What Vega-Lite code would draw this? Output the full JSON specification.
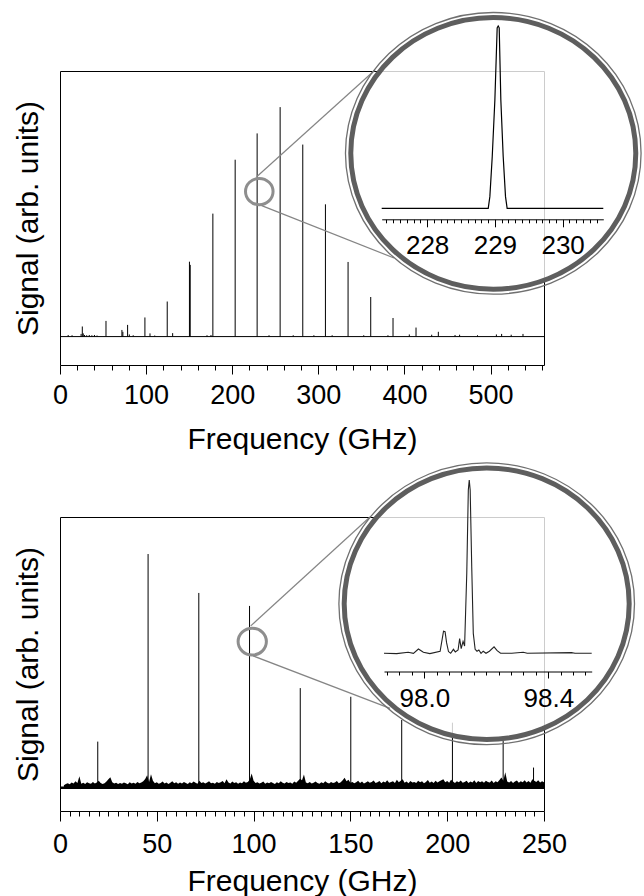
{
  "$schema": "https://vega.github.io/schema/vega-lite/v6.json",
  "padding": {"left": 12, "top": 7, "right": 0, "bottom": 0},
  "bounds": "flush",
  "spacing": 152,
  "config": {
    "font": "Liberation Sans",
    "view": {"stroke": "black", "strokeWidth": 1},
    "axis": {"labelFont": "Liberation Sans", "titleFont": "Liberation Sans", "labelColor": "black", "titleColor": "black", "tickColor": "black", "domainColor": "black", "titleFontWeight": "normal", "grid": false, "labelFlush": false, "labelOverlap": false, "tickWidth": 1}
  },
  "datasets": {
    "p1": [
      {"f":9.5,"v":0.006},{"f":14,"v":0.005},{"f":24.5,"v":0.01},{"f":25.9,"v":0.038},{"f":27,"v":0.012},{"f":28.5,"v":0.006},{"f":31,"v":0.005},{"f":34,"v":0.006},{"f":37,"v":0.005},{"f":40,"v":0.006},{"f":43,"v":0.004},
      {"f":53.4,"v":0.059},{"f":71.9,"v":0.025},{"f":73,"v":0.018},{"f":78.5,"v":0.044},{"f":80.5,"v":0.008},{"f":85,"v":0.005},{"f":98.6,"v":0.072},{"f":104.5,"v":0.012},{"f":110,"v":0.004},
      {"f":124.5,"v":0.132},{"f":130.8,"v":0.013},{"f":150.3,"v":0.282},{"f":151.2,"v":0.27},{"f":170.7,"v":0.005},{"f":175.3,"v":0.006},{"f":177.5,"v":0.463},{"f":203.4,"v":0.666},{"f":228.9,"v":0.765},
      {"f":242.7,"v":0.005},{"f":255.6,"v":0.864},{"f":270.8,"v":0.005},{"f":281.9,"v":0.723},{"f":294.8,"v":0.005},{"f":308.2,"v":0.498},{"f":316,"v":0.005},{"f":334.5,"v":0.281},{"f":352.7,"v":0.005},
      {"f":360.8,"v":0.149},{"f":380.8,"v":0.005},{"f":386.7,"v":0.07},{"f":405.6,"v":0.008},{"f":413.4,"v":0.034},{"f":431.6,"v":0.007},{"f":439.3,"v":0.018},{"f":458.7,"v":0.006},{"f":464,"v":0.007},
      {"f":484.8,"v":0.005},{"f":506.7,"v":0.008},{"f":512.8,"v":0.01},{"f":523.9,"v":0.007},{"f":537.6,"v":0.01}
    ],
    "base1": [{"f":0,"f2":562,"v":0}],
    "circ1": [{"f":231.4,"v":0.546}],
    "lens1": [{"f":503.1,"v":0.69}],
    "conn1": [{"f":228.4,"v":0.602,"f2":365.8,"v2":1.004},{"f":234.2,"v":0.493,"f2":387.8,"v2":0.296}],
    "ins1": [
      {"f":227.33,"v":0},{"f":228.902,"v":0},{"f":228.926,"v":0.064},{"f":228.961,"v":0.283},{"f":229.0,"v":0.594},{"f":229.034,"v":0.99},{"f":229.049,"v":1.0},{"f":229.064,"v":0.99},
      {"f":229.088,"v":0.594},{"f":229.123,"v":0.283},{"f":229.157,"v":0.064},{"f":229.181,"v":0},{"f":230.6,"v":0}
    ],
    "p2": [
      {"f":19.5,"v":0.169},{"f":45.5,"v":0.863},{"f":71.7,"v":0.719},{"f":97.9,"v":0.671},{"f":124.1,"v":0.367},{"f":150.2,"v":0.335},{"f":176.5,"v":0.249},{"f":202.7,"v":0.239},{"f":228.9,"v":0.172},{"f":244.6,"v":0.073}
    ],
    "base2": [{"f":0,"f2":250,"v":-0.002}],
    "noise2": [
      {"f":2,"v":0.008},{"f":3,"v":0.012},{"f":4,"v":0.015},{"f":5,"v":0.011},{"f":6,"v":0.018},{"f":7,"v":0.014},{"f":8,"v":0.022},{"f":9,"v":0.016},{"f":10,"v":0.041},{"f":11,"v":0.013},
      {"f":12,"v":0.017},{"f":13,"v":0.012},{"f":14,"v":0.019},{"f":15,"v":0.015},{"f":16,"v":0.013},{"f":17,"v":0.02},{"f":18,"v":0.014},{"f":19,"v":0.018},{"f":20,"v":0.024},{"f":21,"v":0.016},
      {"f":22,"v":0.012},{"f":23,"v":0.015},{"f":24,"v":0.021},{"f":25,"v":0.03},{"f":26,"v":0.037},{"f":27,"v":0.019},{"f":28,"v":0.014},{"f":29,"v":0.017},{"f":30,"v":0.012},{"f":31,"v":0.016},
      {"f":32,"v":0.013},{"f":33,"v":0.018},{"f":34,"v":0.015},{"f":35,"v":0.011},{"f":36,"v":0.019},{"f":37,"v":0.014},{"f":38,"v":0.017},{"f":39,"v":0.013},{"f":40,"v":0.02},{"f":41,"v":0.015},
      {"f":42,"v":0.018},{"f":43,"v":0.022},{"f":44,"v":0.031},{"f":45,"v":0.045},{"f":46,"v":0.02},{"f":47,"v":0.048},{"f":48,"v":0.024},{"f":49,"v":0.015},{"f":50,"v":0.019},{"f":51,"v":0.013},
      {"f":52,"v":0.016},{"f":53,"v":0.021},{"f":54,"v":0.014},{"f":55,"v":0.018},{"f":56,"v":0.012},{"f":57,"v":0.017},{"f":58,"v":0.022},{"f":59,"v":0.015},{"f":60,"v":0.019},{"f":61,"v":0.013},
      {"f":62,"v":0.018},{"f":63,"v":0.014},{"f":64,"v":0.02},{"f":65,"v":0.016},{"f":66,"v":0.012},{"f":67,"v":0.019},{"f":68,"v":0.015},{"f":69,"v":0.021},{"f":70,"v":0.017},{"f":71,"v":0.013},
      {"f":72,"v":0.024},{"f":73,"v":0.016},{"f":74,"v":0.019},{"f":75,"v":0.014},{"f":76,"v":0.018},{"f":77,"v":0.022},{"f":78,"v":0.015},{"f":79,"v":0.017},{"f":80,"v":0.013},{"f":81,"v":0.02},
      {"f":82,"v":0.016},{"f":83,"v":0.019},{"f":84,"v":0.023},{"f":85,"v":0.015},{"f":86,"v":0.03},{"f":87,"v":0.018},{"f":88,"v":0.014},{"f":89,"v":0.021},{"f":90,"v":0.016},{"f":91,"v":0.019},
      {"f":92,"v":0.013},{"f":93,"v":0.018},{"f":94,"v":0.015},{"f":95,"v":0.022},{"f":96,"v":0.017},{"f":97,"v":0.02},{"f":98,"v":0.028},{"f":99,"v":0.051},{"f":100,"v":0.024},{"f":101,"v":0.016},
      {"f":102,"v":0.019},{"f":103,"v":0.014},{"f":104,"v":0.017},{"f":105,"v":0.021},{"f":106,"v":0.013},{"f":107,"v":0.018},{"f":108,"v":0.015},{"f":109,"v":0.02},{"f":110,"v":0.016},{"f":111,"v":0.012},
      {"f":112,"v":0.019},{"f":113,"v":0.015},{"f":114,"v":0.022},{"f":115,"v":0.017},{"f":116,"v":0.014},{"f":117,"v":0.02},{"f":118,"v":0.016},{"f":119,"v":0.018},{"f":120,"v":0.013},{"f":121,"v":0.021},
      {"f":122,"v":0.017},{"f":123,"v":0.024},{"f":124,"v":0.032},{"f":125,"v":0.026},{"f":126,"v":0.047},{"f":127,"v":0.018},{"f":128,"v":0.015},{"f":129,"v":0.02},{"f":130,"v":0.014},{"f":131,"v":0.017},
      {"f":132,"v":0.021},{"f":133,"v":0.016},{"f":134,"v":0.013},{"f":135,"v":0.019},{"f":136,"v":0.015},{"f":137,"v":0.022},{"f":138,"v":0.017},{"f":139,"v":0.014},{"f":140,"v":0.02},{"f":141,"v":0.016},
      {"f":142,"v":0.018},{"f":143,"v":0.023},{"f":144,"v":0.015},{"f":145,"v":0.019},{"f":146,"v":0.026},{"f":147,"v":0.035},{"f":148,"v":0.022},{"f":149,"v":0.028},{"f":150,"v":0.017},{"f":151,"v":0.02},
      {"f":152,"v":0.015},{"f":153,"v":0.019},{"f":154,"v":0.024},{"f":155,"v":0.016},{"f":156,"v":0.021},{"f":157,"v":0.014},{"f":158,"v":0.018},{"f":159,"v":0.022},{"f":160,"v":0.017},{"f":161,"v":0.02},
      {"f":162,"v":0.025},{"f":163,"v":0.016},{"f":164,"v":0.019},{"f":165,"v":0.023},{"f":166,"v":0.015},{"f":167,"v":0.021},{"f":168,"v":0.018},{"f":169,"v":0.026},{"f":170,"v":0.017},{"f":171,"v":0.02},
      {"f":172,"v":0.022},{"f":173,"v":0.016},{"f":174,"v":0.028},{"f":175,"v":0.019},{"f":176,"v":0.024},{"f":177,"v":0.03},{"f":178,"v":0.017},{"f":179,"v":0.021},{"f":180,"v":0.015},{"f":181,"v":0.023},
      {"f":182,"v":0.018},{"f":183,"v":0.02},{"f":184,"v":0.016},{"f":185,"v":0.024},{"f":186,"v":0.019},{"f":187,"v":0.022},{"f":188,"v":0.015},{"f":189,"v":0.02},{"f":190,"v":0.027},{"f":191,"v":0.017},
      {"f":192,"v":0.021},{"f":193,"v":0.016},{"f":194,"v":0.024},{"f":195,"v":0.018},{"f":196,"v":0.022},{"f":197,"v":0.026},{"f":198,"v":0.03},{"f":199,"v":0.019},{"f":200,"v":0.023},{"f":201,"v":0.017},
      {"f":202,"v":0.028},{"f":203,"v":0.021},{"f":204,"v":0.016},{"f":205,"v":0.022},{"f":206,"v":0.019},{"f":207,"v":0.025},{"f":208,"v":0.017},{"f":209,"v":0.02},{"f":210,"v":0.024},{"f":211,"v":0.016},
      {"f":212,"v":0.021},{"f":213,"v":0.018},{"f":214,"v":0.026},{"f":215,"v":0.016},{"f":216,"v":0.023},{"f":217,"v":0.019},{"f":218,"v":0.022},{"f":219,"v":0.017},{"f":220,"v":0.024},{"f":221,"v":0.02},
      {"f":222,"v":0.018},{"f":223,"v":0.025},{"f":224,"v":0.016},{"f":225,"v":0.022},{"f":226,"v":0.019},{"f":227,"v":0.027},{"f":228,"v":0.036},{"f":229,"v":0.024},{"f":230,"v":0.056},{"f":231,"v":0.021},
      {"f":232,"v":0.018},{"f":233,"v":0.023},{"f":234,"v":0.016},{"f":235,"v":0.021},{"f":236,"v":0.025},{"f":237,"v":0.017},{"f":238,"v":0.022},{"f":239,"v":0.019},{"f":240,"v":0.026},{"f":241,"v":0.018},
      {"f":242,"v":0.023},{"f":243,"v":0.017},{"f":244,"v":0.03},{"f":245,"v":0.024},{"f":246,"v":0.02},{"f":247,"v":0.026},{"f":248,"v":0.018},{"f":249,"v":0.022},{"f":250,"v":0.019}
    ],
    "circ2": [{"f":99.3,"v":0.539}],
    "lens2": [{"f":220.4,"v":0.679}],
    "conn2": [{"f":98.5,"v":0.597,"f2":160.1,"v2":1.0},{"f":99.8,"v":0.486,"f2":170.5,"v2":0.292}],
    "ins2": [
      {"f":97.87,"v":0},{"f":97.911,"v":-0.002},{"f":97.948,"v":0.006},{"f":97.965,"v":0},{"f":97.981,"v":0.025},{"f":97.997,"v":0.006},{"f":98.018,"v":-0.002},{"f":98.051,"v":0.012},
      {"f":98.057,"v":0.075},{"f":98.062,"v":0.128},{"f":98.067,"v":0.125},{"f":98.072,"v":0.06},{"f":98.078,"v":0.01},{"f":98.085,"v":0},{"f":98.094,"v":0.023},{"f":98.1,"v":0.008},
      {"f":98.109,"v":0.019},{"f":98.114,"v":0.085},{"f":98.119,"v":0.027},{"f":98.125,"v":0.069},{"f":98.13,"v":0.042},{"f":98.137,"v":0.462},{"f":98.142,"v":0.942},{"f":98.145,"v":1.0},
      {"f":98.148,"v":0.942},{"f":98.153,"v":0.5},{"f":98.158,"v":0.115},{"f":98.164,"v":0.023},{"f":98.17,"v":0.012},{"f":98.176,"v":0.019},{"f":98.183,"v":0},{"f":98.19,"v":0.012},
      {"f":98.199,"v":0},{"f":98.21,"v":0.012},{"f":98.225,"v":0.037},{"f":98.235,"v":0.015},{"f":98.246,"v":0},{"f":98.282,"v":0},{"f":98.319,"v":0.006},{"f":98.332,"v":0},
      {"f":98.475,"v":0.004},{"f":98.486,"v":0},{"f":98.54,"v":0}
    ]
  },
  "vconcat": [
    {
      "width": 484,
      "height": 294,
      "layer": [
        {
          "encoding": {
            "x": {"field": "f", "type": "quantitative", "scale": {"domain": [0, 562], "nice": false, "zero": false},
              "axis": {"values": [0,20,40,60,80,100,120,140,160,180,200,220,240,260,280,300,320,340,360,380,400,420,440,460,480,500,520,540,560],
                "labelExpr": "datum.value % 100 === 0 ? datum.label : ''",
                "tickSize": {"condition": {"test": "datum.value % 100 === 0", "value": 9}, "value": 5},
                "domain": false, "labelFontSize": 27, "labelPadding": 8, "title": "Frequency (GHz)", "titleFontSize": 30, "titlePadding": 16}},
            "y": {"field": "v", "type": "quantitative", "scale": {"domain": [-0.107, 1], "nice": false, "zero": false},
              "axis": {"title": "Signal (arb. units)", "ticks": false, "labels": false, "domain": false, "titleFontSize": 30, "titlePadding": 17}}
          },
          "layer": [
            {"data": {"name": "base1"}, "mark": {"type": "rule", "color": "black", "strokeWidth": 1}, "encoding": {"x2": {"field": "f2"}}},
            {"data": {"name": "p1"}, "mark": {"type": "rule", "color": "black", "strokeWidth": 1}, "encoding": {"y2": {"datum": 0}}},
            {"data": {"name": "circ1"}, "mark": {"type": "point", "filled": false, "opacity": 1, "stroke": "#8e8e8e", "strokeWidth": 3, "size": 760,
              "shape": "M 1 0 C 1 0.526 0.5523 0.953 0 0.953 C -0.5523 0.953 -1 0.526 -1 0 C -1 -0.526 -0.5523 -0.953 0 -0.953 C 0.5523 -0.953 1 -0.526 1 0 Z"}, "encoding": {}},
            {"data": {"name": "conn1"}, "mark": {"type": "rule", "color": "#858585", "strokeWidth": 1.2}, "encoding": {"x2": {"field": "f2"}, "y2": {"field": "v2"}}},
            {"data": {"name": "lens1"}, "mark": {"type": "point", "filled": false, "opacity": 1, "stroke": "#707070", "strokeWidth": 1.3, "size": 87380,
              "shape": "M 1 0 C 1 0.526 0.5523 0.953 0 0.953 C -0.5523 0.953 -1 0.526 -1 0 C -1 -0.526 -0.5523 -0.953 0 -0.953 C 0.5523 -0.953 1 -0.526 1 0 Z"}, "encoding": {}},
            {"data": {"name": "lens1"}, "mark": {"type": "point", "filled": true, "opacity": 1, "fill": "white", "fillOpacity": 0.8, "stroke": "#5e5e5e", "strokeWidth": 5, "size": 81225,
              "shape": "M 1 0 C 1 0.526 0.5523 0.953 0 0.953 C -0.5523 0.953 -1 0.526 -1 0 C -1 -0.526 -0.5523 -0.953 0 -0.953 C 0.5523 -0.953 1 -0.526 1 0 Z"}, "encoding": {}}
          ]
        },
        {
          "data": {"name": "ins1"},
          "mark": {"type": "line", "color": "black", "strokeWidth": 1.2},
          "encoding": {
            "x": {"field": "f", "type": "quantitative", "scale": {"domain": [227.33, 230.6], "range": [321.7, 543.3], "nice": false, "zero": false},
              "axis": {"orient": "bottom", "offset": -145.7, "zindex": 1, "title": null, "format": ".0f",
                "values": [227.4,227.5,227.6,227.7,227.8,227.9,228,228.1,228.2,228.3,228.4,228.5,228.6,228.7,228.8,228.9,229,229.1,229.2,229.3,229.4,229.5,229.6,229.7,229.8,229.9,230,230.1,230.2,230.3,230.4,230.5],
                "labelExpr": "datum.value % 1 === 0 ? datum.label : ''",
                "tickSize": {"condition": {"test": "datum.value % 1 === 0", "value": 7.5}, "value": 3.5},
                "domain": true, "labelFontSize": 26, "labelPadding": 6}},
            "y": {"field": "v", "type": "quantitative", "scale": {"domain": [0, 1], "range": [137.3, -45], "nice": false, "zero": false}, "axis": null}
          }
        }
      ],
      "resolve": {"scale": {"x": "independent", "y": "independent"}}
    },
    {
      "width": 484,
      "height": 294,
      "layer": [
        {
          "encoding": {
            "x": {"field": "f", "type": "quantitative", "scale": {"domain": [0, 250], "nice": false, "zero": false},
              "axis": {"values": [0,5,10,15,20,25,30,35,40,45,50,55,60,65,70,75,80,85,90,95,100,105,110,115,120,125,130,135,140,145,150,155,160,165,170,175,180,185,190,195,200,205,210,215,220,225,230,235,240,245,250],
                "labelExpr": "datum.value % 50 === 0 ? datum.label : ''",
                "tickSize": {"condition": {"test": "datum.value % 50 === 0", "value": 10}, "value": 5},
                "domain": false, "labelFontSize": 27, "labelPadding": 10, "title": "Frequency (GHz)", "titleFontSize": 30, "titlePadding": 9}},
            "y": {"field": "v", "type": "quantitative", "scale": {"domain": [-0.0877, 1], "nice": false, "zero": false},
              "axis": {"title": "Signal (arb. units)", "ticks": false, "labels": false, "domain": false, "titleFontSize": 30, "titlePadding": 17}}
          },
          "layer": [
            {"data": {"name": "noise2"}, "mark": {"type": "area", "color": "black", "opacity": 1}, "encoding": {"y2": {"datum": -0.006}}},
            {"data": {"name": "base2"}, "mark": {"type": "rule", "color": "black", "strokeWidth": 2.5}, "encoding": {"x2": {"field": "f2"}}},
            {"data": {"name": "p2"}, "mark": {"type": "rule", "color": "black", "strokeWidth": 1}, "encoding": {"y2": {"datum": 0}}},
            {"data": {"name": "circ2"}, "mark": {"type": "point", "filled": false, "opacity": 1, "stroke": "#8e8e8e", "strokeWidth": 3, "size": 800,
              "shape": "M 1 0 C 1 0.526 0.5523 0.953 0 0.953 C -0.5523 0.953 -1 0.526 -1 0 C -1 -0.526 -0.5523 -0.953 0 -0.953 C 0.5523 -0.953 1 -0.526 1 0 Z"}, "encoding": {}},
            {"data": {"name": "conn2"}, "mark": {"type": "rule", "color": "#858585", "strokeWidth": 1.2}, "encoding": {"x2": {"field": "f2"}, "y2": {"field": "v2"}}},
            {"data": {"name": "lens2"}, "mark": {"type": "point", "filled": false, "opacity": 1, "stroke": "#707070", "strokeWidth": 1.3, "size": 87380,
              "shape": "M 1 0 C 1 0.526 0.5523 0.953 0 0.953 C -0.5523 0.953 -1 0.526 -1 0 C -1 -0.526 -0.5523 -0.953 0 -0.953 C 0.5523 -0.953 1 -0.526 1 0 Z"}, "encoding": {}},
            {"data": {"name": "lens2"}, "mark": {"type": "point", "filled": true, "opacity": 1, "fill": "white", "fillOpacity": 0.8, "stroke": "#5e5e5e", "strokeWidth": 5, "size": 81225,
              "shape": "M 1 0 C 1 0.526 0.5523 0.953 0 0.953 C -0.5523 0.953 -1 0.526 -1 0 C -1 -0.526 -0.5523 -0.953 0 -0.953 C 0.5523 -0.953 1 -0.526 1 0 Z"}, "encoding": {}}
          ]
        },
        {
          "data": {"name": "ins2"},
          "mark": {"type": "line", "color": "#222222", "strokeWidth": 1.1},
          "encoding": {
            "x": {"field": "f", "type": "quantitative", "scale": {"domain": [97.87, 98.54], "range": [324, 531.7], "nice": false, "zero": false},
              "axis": {"orient": "bottom", "offset": -139.5, "zindex": 1, "title": null, "format": ".1f",
                "values": [97.88,97.92,97.96,98,98.04,98.08,98.12,98.16,98.2,98.24,98.28,98.32,98.36,98.4,98.44,98.48,98.52],
                "labelExpr": "(abs(datum.value-98)<0.001 || abs(datum.value-98.4)<0.001) ? datum.label : ''",
                "tickSize": {"condition": {"test": "abs(datum.value-98)<0.001 || abs(datum.value-98.4)<0.001", "value": 6.5}, "value": 3.5},
                "domain": true, "labelFontSize": 26, "labelPadding": 7}},
            "y": {"field": "v", "type": "quantitative", "scale": {"domain": [0, 1], "range": [136.3, -37], "nice": false, "zero": false}, "axis": null}
          }
        }
      ],
      "resolve": {"scale": {"x": "independent", "y": "independent"}}
    }
  ]
}
